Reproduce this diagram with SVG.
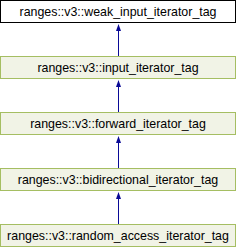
<svg xmlns="http://www.w3.org/2000/svg" width="237" height="248" viewBox="0 0 237 248">
<style>
.box{fill:#F1F3E6;stroke:#A5BE62;stroke-width:1}
.top{fill:#FFFFFF;stroke:#000000;stroke-width:1}
.lbl{font-family:"Liberation Sans",Arial,sans-serif;font-size:12.4px;text-anchor:middle;fill:#000}
.edge{stroke:#0A0A96;stroke-width:1;fill:none}
.head{fill:#0A0A96}
</style>
<g id="connectors">
<line class="edge" x1="118.5" y1="56" x2="118.5" y2="30"/>
<path class="head" d="M118.5,24 L121,31 L116,31 Z"/>
<line class="edge" x1="118.5" y1="112" x2="118.5" y2="86"/>
<path class="head" d="M118.5,80 L121,87 L116,87 Z"/>
<line class="edge" x1="118.5" y1="168" x2="118.5" y2="142"/>
<path class="head" d="M118.5,136 L121,143 L116,143 Z"/>
<line class="edge" x1="118.5" y1="224" x2="118.5" y2="198"/>
<path class="head" d="M118.5,192 L121,199 L116,199 Z"/>
</g>
<g id="weak_input_iterator_tag">
<rect class="top" x="0.5" y="0.5" width="235" height="22"/>
<text class="lbl" x="118" y="16">ranges::v3::weak_input_iterator_tag</text>
</g>
<g id="input_iterator_tag">
<rect class="box" x="0.5" y="56.5" width="235" height="22"/>
<text class="lbl" x="118" y="72">ranges::v3::input_iterator_tag</text>
</g>
<g id="forward_iterator_tag">
<rect class="box" x="0.5" y="112.5" width="235" height="22"/>
<text class="lbl" x="118" y="128">ranges::v3::forward_iterator_tag</text>
</g>
<g id="bidirectional_iterator_tag">
<rect class="box" x="0.5" y="168.5" width="235" height="22"/>
<text class="lbl" x="118" y="184">ranges::v3::bidirectional_iterator_tag</text>
</g>
<g id="random_access_iterator_tag">
<rect class="box" x="0.5" y="224.5" width="235" height="22"/>
<text class="lbl" x="118" y="240">ranges::v3::random_access_iterator_tag</text>
</g>
</svg>
